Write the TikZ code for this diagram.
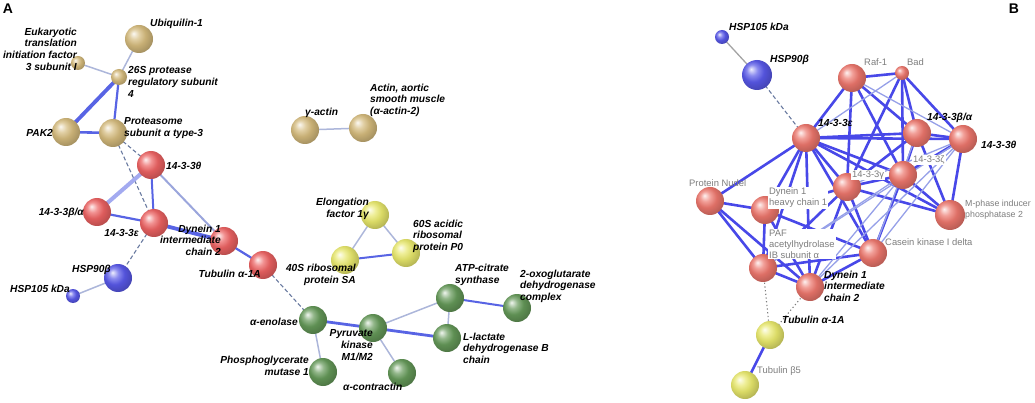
\documentclass[tikz,border=0pt]{standalone}
\usepackage{fontspec}
\setmainfont{Liberation Sans}
\usetikzlibrary{backgrounds}
\makeatletter
\pgfdeclareradialshading[tikz@ball]{ball}{\pgfqpoint{-10bp}{10bp}}{%
 color(0bp)=(tikz@ball!10!white);
 color(9bp)=(tikz@ball!70!white);
 color(18bp)=(tikz@ball!94!black);
 color(28bp)=(tikz@ball!80!black);
 color(50bp)=(tikz@ball!40!black)}
\makeatother
\definecolor{ctan}{RGB}{212,186,124}
\definecolor{cred}{RGB}{236,98,98}
\definecolor{cbred}{RGB}{236,118,108}
\definecolor{cblue}{RGB}{88,88,232}
\definecolor{cyel}{RGB}{232,232,108}
\definecolor{cgrn}{RGB}{100,152,88}
\definecolor{estrong}{RGB}{88,100,228}
\definecolor{elight}{RGB}{172,182,218}
\definecolor{edash}{RGB}{105,122,160}
\definecolor{bstrong}{RGB}{72,72,232}
\definecolor{blight}{RGB}{150,160,232}
\definecolor{gtxt}{RGB}{125,125,125}
\newcommand\lblfontA{\fontsize{10.2}{11.6}\selectfont\bfseries\itshape}
\newcommand\lblfontG{\fontsize{9.4}{11}\selectfont\color{gtxt}}
\begin{document}
\begin{tikzpicture}[x=1pt,y=-1pt,
  sph/.style={circle,inner sep=0pt,minimum size=28pt,draw=none},
  small/.style={minimum size=14pt},
  tanb/.style={sph,ball color=ctan},
  redb/.style={sph,ball color=cred},
  bredb/.style={sph,ball color=cbred},
  blub/.style={sph,ball color=cblue},
  yelb/.style={sph,ball color=cyel},
  grnb/.style={sph,ball color=cgrn},
  lab/.style={inner sep=0pt,font=\lblfontA,align=left},
  labr/.style={inner sep=0pt,font=\lblfontA,align=right},
  glab/.style={inner sep=0pt,font=\lblfontG,align=left},
  wlab/.style={glab,fill=white,inner sep=1pt},
  eS/.style={draw=estrong,line width=2.6pt},
  eT/.style={draw=estrong,line width=3.8pt},
  eL/.style={draw=elight,line width=1.5pt},
  eD/.style={draw=edash,line width=1.1pt,dashed,dash pattern=on 4pt off 2.5pt},
  bS/.style={draw=bstrong,line width=2.6pt},
  bL/.style={draw=blight,line width=1.3pt},
  bD/.style={draw=gtxt,line width=1.1pt,dash pattern=on 1.2pt off 2.5pt}
]
\useasboundingbox (0,0) rectangle (1035,403);
% panel letters
\node[font=\fontsize{14}{14}\selectfont\bfseries] (lA) at (8,9) {A};
\node[font=\fontsize{14}{14}\selectfont\bfseries] (lB) at (1014,9) {B};

% ---------- Panel A balls ----------
\node[tanb,small] (aEuk) at (78,63) {};
\node[tanb] (aUbq) at (139,39) {};
\node[tanb,minimum size=16pt] (a26S) at (119,77) {};
\node[tanb] (aPAK) at (66,132) {};
\node[tanb] (aPSA) at (113,133) {};
\node[redb] (aT) at (151,165) {};
\node[redb] (aBA) at (97,212) {};
\node[redb] (aE) at (154,223) {};
\node[redb] (aDyn) at (224,241) {};
\node[redb] (aTub) at (263,265) {};
\node[blub] (aH90) at (118,278) {};
\node[blub,small] (aH105) at (73,296) {};
\node[tanb] (aGact) at (305,130) {};
\node[tanb] (aAact) at (363,128) {};
\node[yelb] (aEF) at (375,215) {};
\node[yelb] (a40S) at (345,260) {};
\node[yelb] (a60S) at (406,253) {};
\node[grnb] (aATP) at (450,298) {};
\node[grnb] (aOXO) at (517,308) {};
\node[grnb] (aPK) at (373,328) {};
\node[grnb] (aENO) at (313,320) {};
\node[grnb] (aLDH) at (447,338) {};
\node[grnb] (aPGM) at (323,372) {};
\node[grnb] (aCTR) at (402,373) {};

% ---------- Panel B balls ----------
\node[blub,small] (bH105) at (722,37) {};
\node[blub,minimum size=30pt] (bH90) at (757,75) {};
\node[bredb] (bRaf) at (852,78) {};
\node[bredb,small] (bBad) at (902,73) {};
\node[bredb] (bE) at (806,138) {};
\node[bredb] (bBA) at (917,133) {};
\node[bredb] (bT) at (963,139) {};
\node[bredb] (bZ) at (903,175) {};
\node[bredb] (bG) at (847,187) {};
\node[bredb] (bNud) at (710,201) {};
\node[bredb] (bHC1) at (765,210) {};
\node[bredb,minimum size=30pt] (bM) at (950,215) {};
\node[bredb] (bCK) at (873,253) {};
\node[bredb] (bPAF) at (763,268) {};
\node[bredb] (bIC2) at (810,287) {};
\node[yelb] (bTa) at (770,335) {};
\node[yelb] (bTb) at (745,385) {};

% ---------- edges ----------
\begin{scope}[on background layer]
% panel A
\draw[eL] (aEuk.center) -- (a26S.center);
\draw[eL] (aUbq.center) -- (a26S.center);
\draw[eT] (a26S.center) -- (aPAK.center);
\draw[eS,line width=2.2pt] (a26S.center) -- (aPSA.center);
\draw[eS] (aPAK.center) -- (aPSA.center);
\draw[eD] (aPSA.center) -- (aT.center);
\draw[eD] (aPSA.center) -- (aE.center);
\draw[draw=estrong!55,line width=4pt] (aT.center) -- (aBA.center);
\draw[eS,line width=2pt] (aT.center) -- (aE.center);
\draw[draw=elight!80!estrong,line width=2pt] (aT.center) -- (aDyn.center);
\draw[eS,line width=2.2pt] (aBA.center) -- (aE.center);
\draw[eT] (aE.center) -- (aDyn.center);
\draw[eD] (aE.center) -- (aH90.center);
\draw[eL] (aH90.center) -- (aH105.center);
\draw[eS,line width=2.2pt] (aDyn.center) -- (aTub.center);
\draw[eD] (aTub.center) -- (aENO.center);
\draw[eL] (aGact.center) -- (aAact.center);
\draw[eL] (aEF.center) -- (a40S.center);
\draw[eL] (aEF.center) -- (a60S.center);
\draw[eS,line width=2pt] (a40S.center) -- (a60S.center);
\draw[eS,line width=2.8pt] (aENO.center) -- (aPK.center);
\draw[eS,line width=2.8pt] (aPK.center) -- (aLDH.center);
\draw[eL] (aENO.center) -- (aPGM.center);
\draw[eL] (aPK.center) -- (aATP.center);
\draw[eL] (aPK.center) -- (aCTR.center);
\draw[eL] (aATP.center) -- (aLDH.center);
\draw[eS,line width=2pt] (aATP.center) -- (aOXO.center);
% panel B
\draw[bL,draw=gtxt!70] (bH105.center) -- (bH90.center);
\draw[eD] (bH90.center) -- (bE.center);
\draw[bD] (bPAF.center) -- (bTa.center);
\draw[bD] (bIC2.center) -- (bTa.center);
\draw[bS] (bTa.center) -- (bTb.center);
\foreach \a/\b in {bRaf/bBad,bRaf/bE,bRaf/bBA,bRaf/bZ,bRaf/bG,
  bBad/bBA,bBad/bZ,bBad/bT,bBad/bG,
  bE/bBA,bE/bT,bE/bZ,bE/bG,bE/bNud,bE/bHC1,bE/bPAF,bE/bIC2,bE/bCK,bE/bM,
  bBA/bT,bBA/bZ,bBA/bM,bBA/bG,
  bT/bM,bT/bZ,bZ/bM,bZ/bG,bZ/bCK,
  bG/bM,bG/bCK,bG/bIC2,bG/bPAF,bG/bHC1,
  bNud/bHC1,bNud/bPAF,bNud/bIC2,
  bHC1/bPAF,bHC1/bIC2,bHC1/bCK,
  bPAF/bIC2,bPAF/bCK,bIC2/bCK}
  {\draw[bS] (\a.center) -- (\b.center);}
\foreach \a/\b in {bBad/bE,bRaf/bT,bT/bG,bT/bCK,bT/bPAF,bZ/bPAF,bBA/bCK,bT/bIC2,bZ/bIC2}
  {\draw[bL] (\a.center) -- (\b.center);}
\end{scope}

% ---------- Panel A labels ----------
\node[labr,anchor=east] (tEuk) at (77,49) {Eukaryotic\\translation\\initiation factor\\3 subunit I};
\node[lab,anchor=west] (tUbq) at (150,24) {Ubiquilin-1};
\node[lab,anchor=west] (t26S) at (128,82) {26S protease\\regulatory subunit\\4};
\node[lab,anchor=east] (tPAK) at (53,133) {PAK2};
\node[lab,anchor=west] (tPSA) at (124,128) {Proteasome\\subunit α type-3};
\node[lab,anchor=west] (tT) at (166,166) {14-3-3θ};
\node[lab,anchor=east] (tBA) at (84,213) {14-3-3β/α};
\node[lab,anchor=east] (tE) at (139,233) {14-3-3ε};
\node[labr,anchor=east] (tDyn) at (221,240) {Dynein 1\\intermediate\\chain 2};
\node[lab,anchor=east] (tTub) at (261,274) {Tubulin α-1A};
\node[lab,anchor=east] (tH90) at (111,270) {HSP90β};
\node[lab,anchor=west] (tH105) at (10,289) {HSP105 kDa};
\node[lab,anchor=west] (tGact) at (305,113) {γ-actin};
\node[lab,anchor=west] (tAact) at (370,100) {Actin, aortic\\smooth muscle\\(α-actin-2)};
\node[labr,anchor=east] (tEF) at (369,209) {Elongation\\factor 1γ};
\node[lab,anchor=west] (t60S) at (413,236) {60S acidic\\ribosomal\\protein P0};
\node[labr,anchor=east] (t40S) at (356,275) {40S ribosomal\\protein SA};
\node[lab,anchor=west] (tATP) at (455,275) {ATP-citrate\\synthase};
\node[lab,anchor=west] (tOXO) at (520,286) {2-oxoglutarate\\dehydrogenase\\complex};
\node[lab,anchor=west] (tLDH) at (463,348) {L-lactate\\dehydrogenase B\\chain};
\node[labr,anchor=east] (tPK) at (373,345) {Pyruvate\\kinase\\M1/M2};
\node[lab,anchor=east] (tENO) at (298,322) {α-enolase};
\node[labr,anchor=east] (tPGM) at (309,366) {Phosphoglycerate\\mutase 1};
\node[lab,anchor=west] (tCTR) at (343,387) {α-contractin};

% ---------- Panel B labels ----------
\node[lab,anchor=west] (uH105) at (729,27) {HSP105 kDa};
\node[lab,anchor=west] (uH90) at (770,60) {HSP90β};
\node[glab,anchor=west] (uRaf) at (864,62) {Raf-1};
\node[glab,anchor=west] (uBad) at (907,62) {Bad};
\node[lab,anchor=west] (uE) at (818,123) {14-3-3ε};
\node[lab,anchor=west] (uBA) at (927,118) {14-3-3β/α};
\node[lab,anchor=west] (uT) at (981,145) {14-3-3θ};
\node[wlab,anchor=west] (uZ) at (912,160) {14-3-3ζ};
\node[wlab,anchor=west] (uG) at (851,175) {14-3-3γ};
\node[glab,anchor=west] (uNud) at (689,183) {Protein Nudel};
\node[wlab,anchor=west] (uHC1) at (768,198) {Dynein 1\\heavy chain 1};
\node[wlab,anchor=west] (uPAF) at (768,244) {PAF\\acetylhydrolase\\IB subunit α};
\node[glab,anchor=west] (uCK) at (885,242) {Casein kinase I delta};
\node[glab,anchor=west,font=\fontsize{8.8}{11}\selectfont\color{gtxt}] (uM) at (965,210) {M-phase inducer\\phosphatase 2};
\node[lab,anchor=west] (uIC2) at (824,286) {Dynein 1\\intermediate\\chain 2};
\node[lab,anchor=west] (uTa) at (782,320) {Tubulin α-1A};
\node[glab,anchor=west] (uTb) at (757,371) {Tubulin β5};
\end{tikzpicture}
\end{document}
